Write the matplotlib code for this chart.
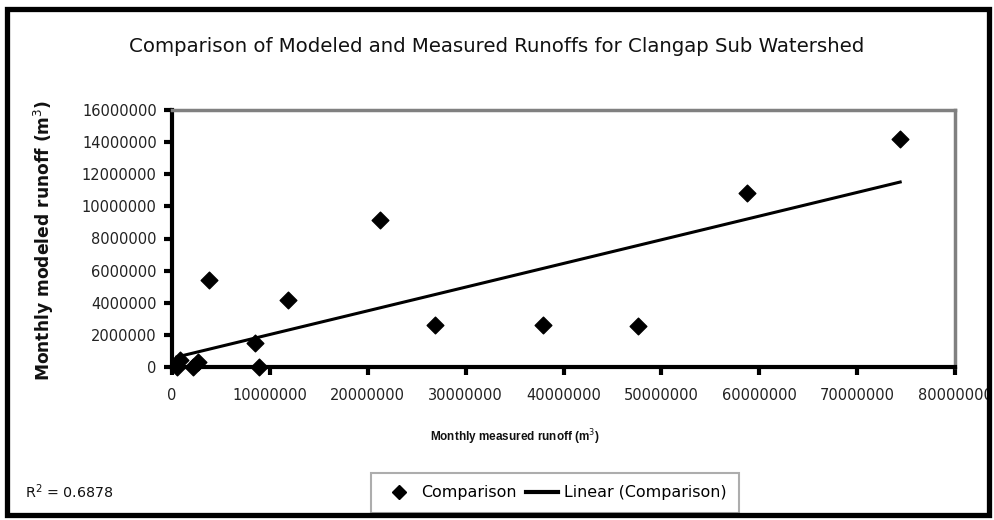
import matplotlib
matplotlib.use("Agg")
import matplotlib.pyplot as plt
from matplotlib.patches import Rectangle
from matplotlib.lines import Line2D
import numpy as np

# ---- data ----
measured = [0.5e6, 0.8e6, 2.1e6, 2.65e6, 3.8e6, 8.5e6, 8.9e6, 11.9e6,
            21.25e6, 26.9e6, 37.9e6, 47.6e6, 58.7e6, 74.4e6]
modeled = [0.0, 0.44e6, 0.0, 0.33e6, 5.42e6, 1.5e6, 0.0, 4.2e6,
           9.13e6, 2.62e6, 2.6e6, 2.55e6, 10.83e6, 14.2e6]
trend_slope = 0.1474
trend_intercept = 0.55e6
r_squared_text = "R$^2$ = 0.6878"

x_ticks = [0, 10000000, 20000000, 30000000, 40000000, 50000000, 60000000, 70000000, 80000000]
y_ticks = [0, 2000000, 4000000, 6000000, 8000000, 10000000, 12000000, 14000000, 16000000]

title = "Comparison of Modeled and Measured Runoffs for Clangap Sub Watershed"
xlabel = "Monthly measured runoff (m$^3$)"
ylabel = "Monthly modeled runoff (m$^3$)"

W, H = 994, 520
fig = plt.figure(figsize=(W / 100, H / 100), dpi=100)
fig.patch.set_facecolor("white")

def fx(px):
    return px / W

def fy(py):
    return 1 - py / H

ax = fig.add_axes([fx(172), fy(367), fx(955) - fx(172), fy(110) - fy(367)])
ax.set_xlim(x_ticks[0], x_ticks[-1])
ax.set_ylim(y_ticks[0], y_ticks[-1])

ax.scatter(measured, modeled, marker="D", s=72, color="black", zorder=3,
           clip_on=False, label="Comparison")
xs = np.array([min(measured), max(measured)])
ax.plot(xs, trend_intercept + trend_slope * xs, color="black", lw=2.2,
        zorder=2, label="Linear (Comparison)")

ax.set_xticks(x_ticks)
ax.set_yticks(y_ticks)
ax.set_xticklabels([str(v) for v in x_ticks])
ax.set_yticklabels([str(v) for v in y_ticks])
for lab in ax.get_xticklabels() + ax.get_yticklabels():
    lab.set_fontfamily(["DejaVu Sans"])
    lab.set_fontsize(10.5)
    lab.set_color("#222222")
ax.tick_params(axis="both", direction="out", length=6, width=3, color="black", pad=5)
ax.tick_params(axis="x", pad=9)

for side in ["left", "bottom"]:
    ax.spines[side].set_color("black")
    ax.spines[side].set_linewidth(3)
for side in ["top", "right"]:
    ax.spines[side].set_color("#808080")
    ax.spines[side].set_linewidth(2.5)

fig.text(fx(497), fy(47), title, ha="center", va="center",
         family=["DejaVu Sans"], fontsize=14.2, color="#111111")
fig.text(fx(515), fy(437), xlabel, ha="center", va="center",
         family=["Liberation Sans"], fontweight="bold",
         fontsize=8.5, color="#111111")
fig.text(fx(44), fy(240), ylabel, ha="center", va="center", rotation=90,
         family=["DejaVu Sans"], fontweight="bold", fontsize=12.3, color="#111111")
fig.text(fx(25), fy(492), r_squared_text, ha="left", va="center",
         family=["DejaVu Sans"], fontsize=10.3, color="#111111")

handles = [Line2D([], [], marker="D", color="black", ls="none", markersize=7),
           Line2D([], [], color="black", lw=3)]
leg = fig.legend(handles, ["Comparison", "Linear (Comparison)"], loc="center",
                 bbox_to_anchor=(fx(555), fy(493)), ncol=2, frameon=True,
                 fancybox=False, edgecolor="#999999", handlelength=2.0,
                 columnspacing=0.6, handletextpad=0.4, borderpad=0.8,
                 prop=dict(family="DejaVu Sans", size=11.4))
leg.get_frame().set_linewidth(1.5)

fig.patches.append(Rectangle((fx(7), fy(515)), fx(989) - fx(7), fy(9) - fy(515),
                             transform=fig.transFigure, fill=False,
                             edgecolor="black", linewidth=3.8, zorder=10))

fig.savefig("out.png", dpi=100, facecolor="white")
